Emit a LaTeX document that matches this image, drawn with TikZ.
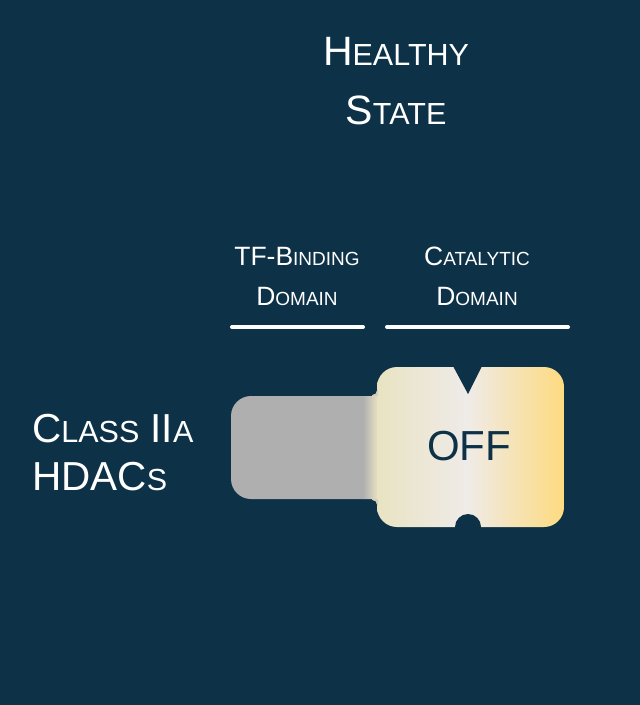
\documentclass[tikz,border=0pt]{standalone}
\usepackage{fontspec}
\setmainfont{Liberation Sans}
\definecolor{navy}{HTML}{0D3146}
\definecolor{greybar}{HTML}{AFAFAF}
\definecolor{creamL}{HTML}{E9E3C3}
\definecolor{creamM}{HTML}{EFEBE8}
\definecolor{creamR}{HTML}{FDDB80}
% fake small capitals
\newcommand{\lowcap}[2]{{\fontsize{#1}{#1}\selectfont #2}}

\begin{document}
\begin{tikzpicture}[x=1bp,y=-1bp,
  txt/.style={text=white, inner sep=0pt, anchor=base},
  rule/.style={draw=white, line width=4bp, line cap=round}]
\useasboundingbox[fill=navy] (0,0) rectangle (640,705);

% title
\node[txt, font=\fontsize{41bp}{41bp}\selectfont] (title1) at (396,66) {H\lowcap{30.5bp}{EALTHY}};
\node[txt, font=\fontsize{41bp}{41bp}\selectfont] (title2) at (396,125) {S\lowcap{30.5bp}{TATE}};

% domain headers
\node[txt, font=\fontsize{26.5bp}{26.5bp}\selectfont] (tf1) at (297,265) {TF-B\lowcap{19bp}{INDING}};
\node[txt, font=\fontsize{26.5bp}{26.5bp}\selectfont] (tf2) at (297,305) {D\lowcap{19bp}{OMAIN}};
\node[txt, font=\fontsize{26.5bp}{26.5bp}\selectfont] (cat1) at (477,265) {C\lowcap{19bp}{ATALYTIC}};
\node[txt, font=\fontsize{26.5bp}{26.5bp}\selectfont] (cat2) at (477,305) {D\lowcap{19bp}{OMAIN}};
\coordinate (tfL) at (232,327);
\coordinate (tfR) at (363,327);
\coordinate (catL) at (387,327);
\coordinate (catR) at (568,327);
\draw[rule] (tfL) -- (tfR);
\draw[rule] (catL) -- (catR);

% row label
\node[txt, anchor=base west, font=\fontsize{40.5bp}{40.5bp}\selectfont] (cls1) at (32,442) {C\lowcap{30.5bp}{LASS} II\lowcap{30.5bp}{A}};
\node[txt, anchor=base west, font=\fontsize{40.5bp}{40.5bp}\selectfont] (cls2) at (32,490) {HDAC\lowcap{30.5bp}{S}};

% protein
\begin{scope}
\clip[rounded corners=20bp] (231,396) rectangle (430,499) (377,367) rectangle (564,527);
\fill[greybar] (231,390) rectangle (364,505);
\shade[left color=greybar, right color=creamL] (363,367) rectangle (378,527);
\shade[left color=creamL, right color=creamM] (377,367) rectangle (468,527);
\shade[left color=creamM, right color=creamR] (467,367) rectangle (564,527);
\end{scope}
% small fillets where the two parts meet
\fill[creamL!60!greybar] (372,396) rectangle (378,390) (372,499) rectangle (378,505);
\fill[navy] (372,390) circle (5bp) (372,505) circle (5bp);
% notches
\fill[navy] (453,366) -- (468,394) -- (482,366) -- cycle;
\fill[navy] (468,527) circle (13bp);
\node[inner sep=0pt, anchor=base, text=navy, font=\fontsize{42bp}{42bp}\selectfont] (off) at (469,460) {OFF};
\end{tikzpicture}
\end{document}
